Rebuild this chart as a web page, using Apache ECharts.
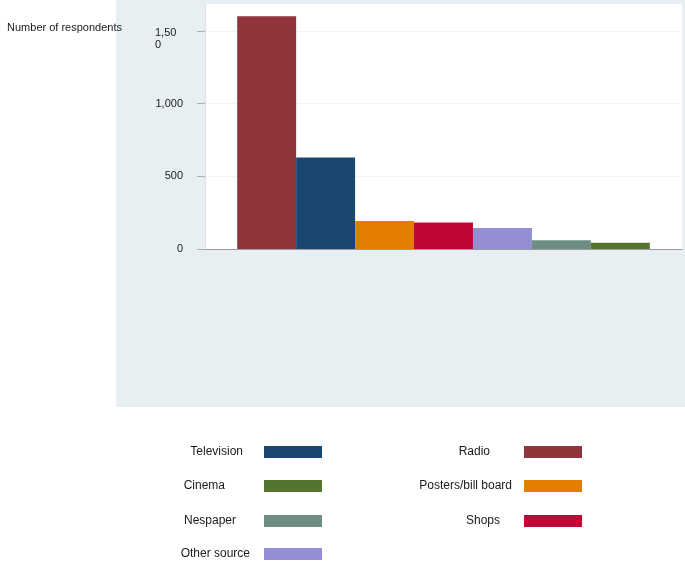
<!DOCTYPE html>
<html>
<head>
<meta charset="utf-8">
<script src="https://cdn.jsdelivr.net/npm/echarts@6/dist/echarts.min.js"></script>
<style>
html,body{margin:0;padding:0;background:#fff;}
#chart{width:685px;height:575px;}
</style>
</head>
<body>
<div id="chart"></div>
<script>
// ---- data ----
const sources = ['Radio', 'Television', 'Posters/bill board', 'Shops', 'Other source', 'Nespaper', 'Cinema'];
const respondents = [1600, 630, 192, 183, 144, 60, 43];
const yTicks = [0, 500, 1000, 1500];
const yAxisMax = 1685;
const yTitle = 'Number of respondents';

// ---- styles / layout (kept separate from data) ----
const colors = ['#90353b', '#1a476f', '#e37e00', '#c10534', '#938dd2', '#6e8e84', '#55752f'];
// legend layout per source: [right offset, top, text padding right]
const legendLayout = {
  'Television':        [363, 446, 16],
  'Cinema':            [363, 480, 34],
  'Nespaper':          [363, 515, 23],
  'Other source':      [363, 548, 9],
  'Radio':             [103, 446, 29],
  'Posters/bill board':[103, 480, 7],
  'Shops':             [103, 515, 19]
};
const FONT = '"Liberation Sans", Arial, Helvetica, sans-serif';

const chart = echarts.init(document.getElementById('chart'), null, {renderer: 'canvas'});

function fmt(v) {
  if (v === 1500) return '{s| }\n{w|1,50}\n{w|0}';
  return v.toLocaleString('en-US');
}

const series = sources.map((name, i) => ({
  name: name,
  type: 'bar',
  data: [respondents[i]],
  itemStyle: {color: colors[i]},
  barGap: '0%',
  barCategoryGap: '13.5%'
}));

const legends = Object.keys(legendLayout).map(name => {
  const l = legendLayout[name];
  return {
    data: [name],
    right: l[0],
    top: l[1],
    align: 'right',
    orient: 'horizontal',
    padding: 0,
    itemWidth: 58,
    itemHeight: 12,
    selectedMode: false,
    icon: 'rect',
    textStyle: {fontFamily: FONT, fontSize: 12, color: '#1a1a1a', padding: [0, l[2], 0, 0]}
  };
});

const option = {
  backgroundColor: '#ffffff',
  animation: false,
  textStyle: {fontFamily: FONT},
  graphic: [{
    type: 'rect',
    z: -10,
    silent: true,
    shape: {x: 116, y: 0, width: 569, height: 407},
    style: {fill: '#e8eff2'}
  }],
  grid: {
    left: 205, top: 4, width: 477, height: 245,
    show: true, backgroundColor: '#ffffff', borderWidth: 0
  },
  legend: legends,
  xAxis: {
    type: 'category',
    data: [''],
    axisLine: {show: true, lineStyle: {color: '#9a9a9a', width: 1}},
    axisTick: {show: false},
    axisLabel: {show: false},
    splitLine: {show: false}
  },
  yAxis: {
    type: 'value',
    min: 0,
    max: yAxisMax,
    name: yTitle,
    nameLocation: 'end',
    nameGap: -24,
    nameTextStyle: {fontFamily: FONT, fontSize: 11, color: '#1a1a1a', align: 'right', verticalAlign: 'middle', padding: [0, 83, 0, 0]},
    axisLine: {show: true, lineStyle: {color: '#e0e0e0', width: 1}},
    axisTick: {show: true, length: 8, customValues: yTicks, lineStyle: {color: '#b0b0b0'}},
    axisLabel: {
      show: true, margin: 22, customValues: yTicks,
      fontFamily: FONT, fontSize: 11, color: '#1a1a1a',
      formatter: fmt,
      rich: {
        s: {fontSize: 11, lineHeight: 16},
        w: {fontFamily: FONT, fontSize: 11, color: '#1a1a1a', width: 28, align: 'left', lineHeight: 12}
      }
    },
    splitLine: {show: true, lineStyle: {color: '#f2f4f5', width: 1}}
  },
  series: series
};

chart.setOption(option);
</script>
</body>
</html>
